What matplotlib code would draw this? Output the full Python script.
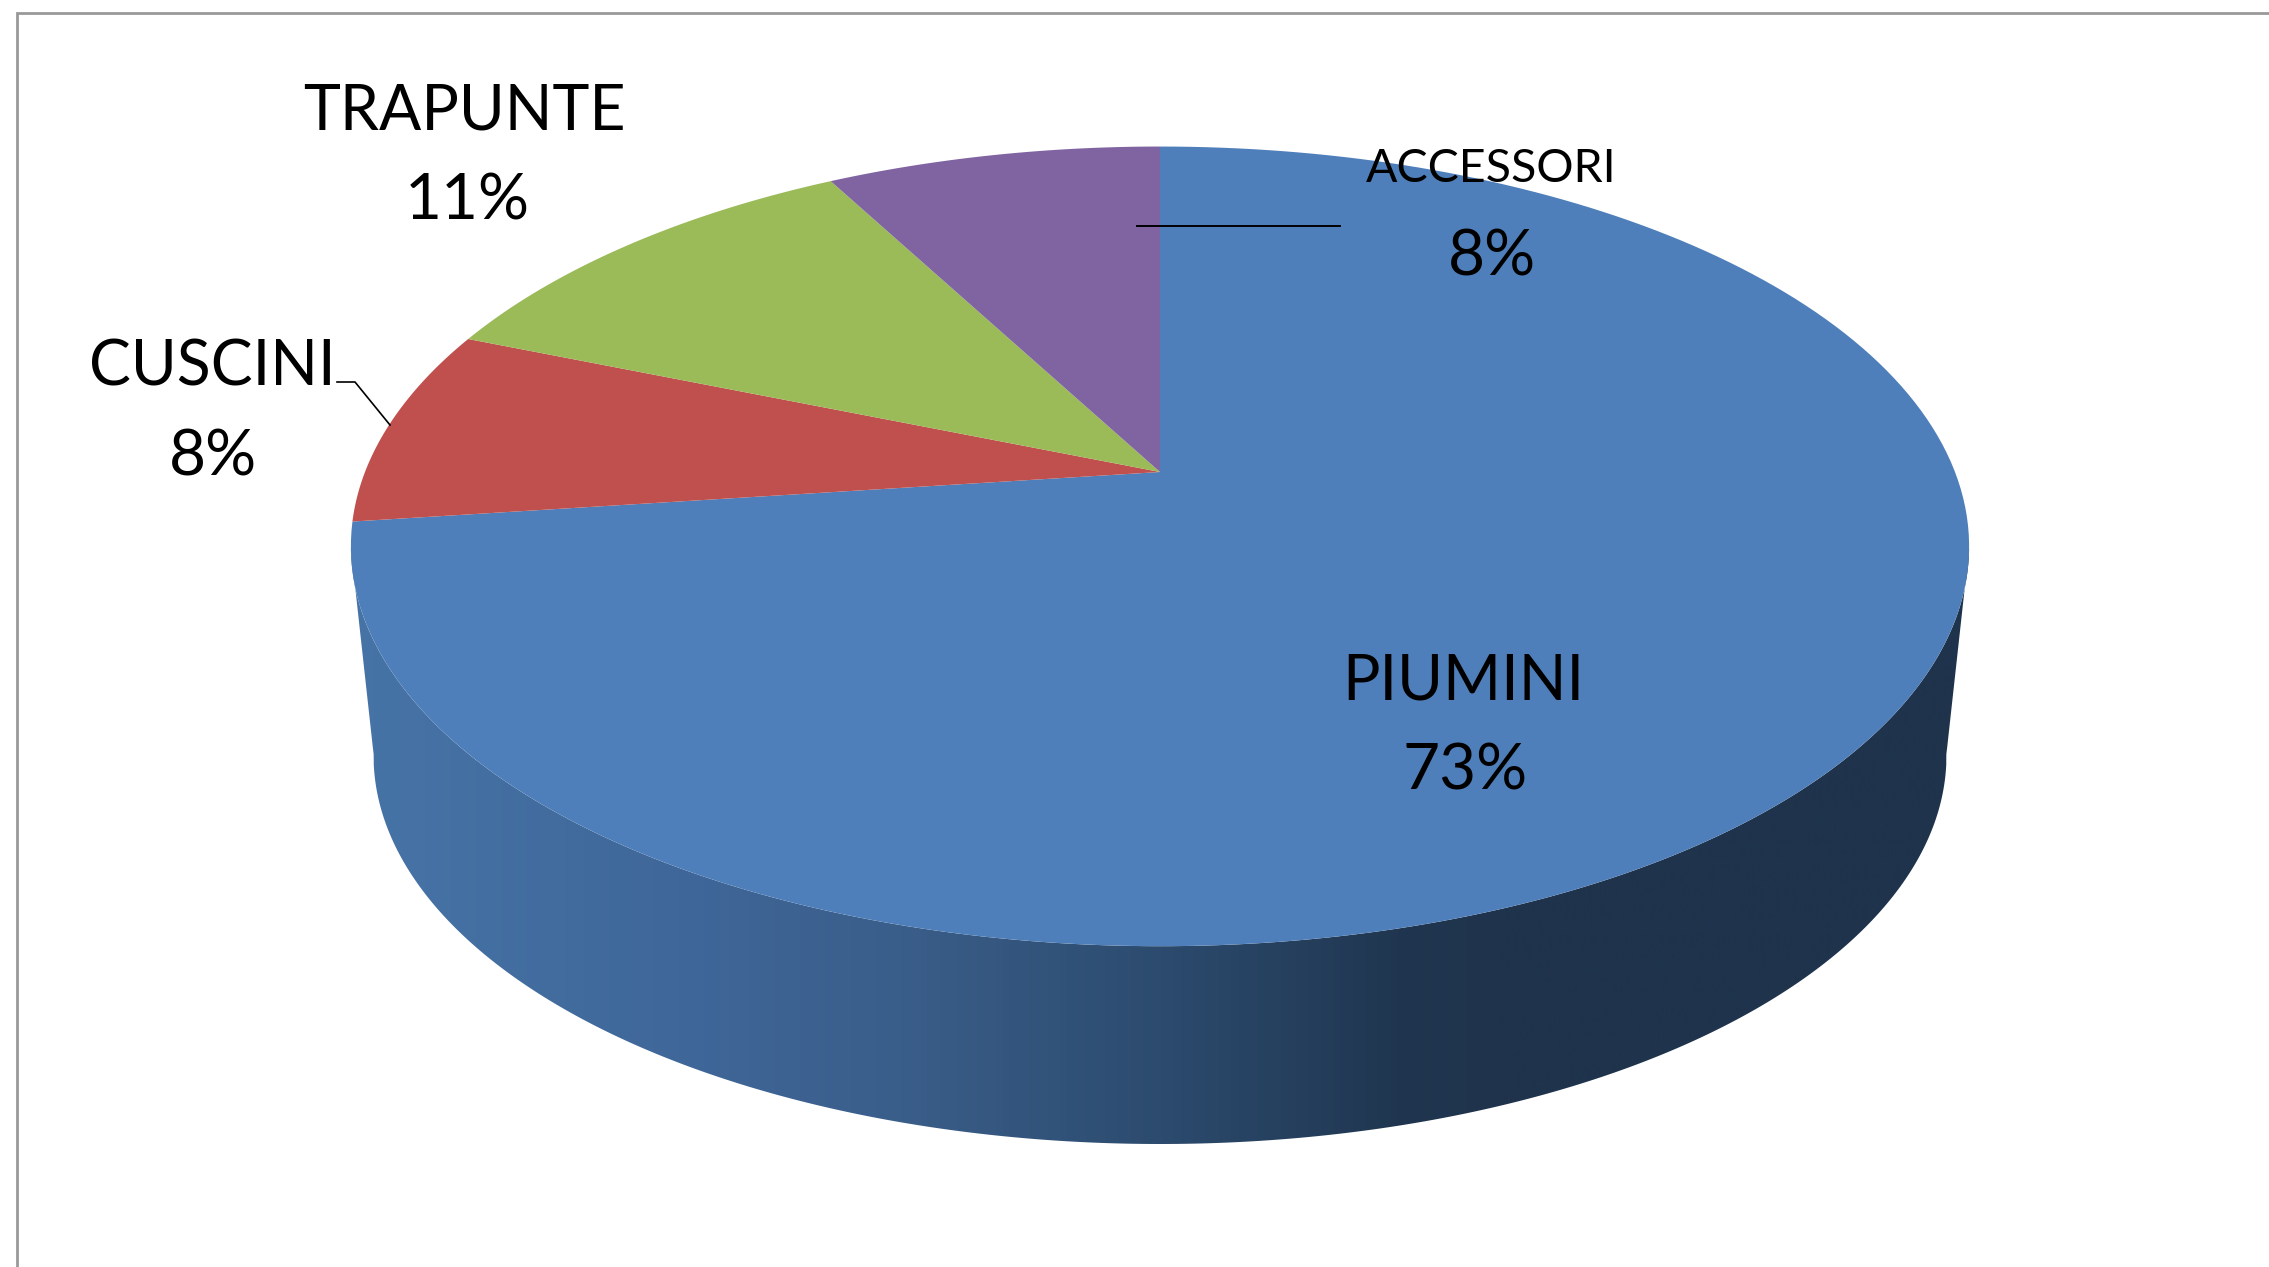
import numpy as np
import matplotlib
matplotlib.use("Agg")
import matplotlib.pyplot as plt
from matplotlib.colors import LinearSegmentedColormap
from matplotlib.patches import Polygon

# Datos del grafico
categorias = ["PIUMINI", "CUSCINI", "TRAPUNTE", "ACCESSORI"]
valores = [73, 8, 11, 8]
etiquetas_pct = ["73%", "8%", "11%", "8%"]
colores = ["#4F7FBA", "#C0504D", "#9BBB59", "#8064A2"]

W, H = 2269, 1267

# Geometria de la tarta en perspectiva (pixeles)
ax_apice, ay_apice = 1160, 472
a, b, k = 795, 386, 0.186
dx_base = 0.972
fondo_y = 1144

# Posicion de textos: x, linea de base, tamano
pos_nombre = [(1463, 700, 45), (212, 385, 45), (464, 129, 45), (1491, 182, 33.5)]
pos_pct = [(1465, 790, 46), (213, 476, 46), (467, 220, 46), (1492, 275, 46)]


def proyectar(t):
    # t en radianes, sentido horario desde las 12
    u, v = np.sin(t), np.cos(t)
    den = 1 + k * v
    return ax_apice + a * u / den, ay_apice - b * v / den


fig = plt.figure(figsize=(W / 100, H / 100), dpi=100)
ax = fig.add_axes([0, 0, 1, 1])
ax.set_xlim(0, W)
ax.set_ylim(H, 0)
ax.axis("off")
plt.rcParams["font.family"] = ["Lato", "DejaVu Sans"]

# Contorno de la cara superior y de la base
t = np.linspace(0, 2 * np.pi, 721)
x_sup, y_sup = proyectar(t)
cx = (x_sup.min() + x_sup.max()) / 2
cy = (y_sup.min() + y_sup.max()) / 2
x_inf = cx + (x_sup - cx) * dx_base
y_inf = fondo_y - (y_sup.max() - y_sup) * dx_base

# Lateral: banda entre los extremos de las dos elipses
mitad_sup = y_sup >= cy
mitad_inf = y_inf >= cy + (fondo_y - y_sup.max())
orden_sup = np.argsort(x_sup[mitad_sup])
orden_inf = np.argsort(x_inf[mitad_inf])[::-1]
lateral = np.column_stack([
    np.r_[x_sup[mitad_sup][orden_sup], x_inf[mitad_inf][orden_inf]],
    np.r_[y_sup[mitad_sup][orden_sup], y_inf[mitad_inf][orden_inf]],
])

x0, x1 = x_inf.min() - 25, x_sup.max() + 5
stops = [(373, "#4673A6"), (700, "#3F6698"), (900, "#3A5E8A"), (1160, "#2C4B6E"),
         (1400, "#203650"), (1500, "#1F334C"), (1950, "#1F334C")]
cmap = LinearSegmentedColormap.from_list(
    "lateral", [((max(p, x0) - x0) / (x1 - x0), c) for p, c in [(x0, "#4673A6")] + stops] + [(1.0, "#1F334C")])
img = ax.imshow(np.linspace(0, 1, 1024)[None, :], cmap=cmap, aspect="auto",
                extent=[x0, x1, H, 0], zorder=1)
parche = Polygon(lateral, closed=True, transform=ax.transData, fc="none", ec="none")
ax.add_patch(parche)
img.set_clip_path(parche)
ax.set_xlim(0, W)
ax.set_ylim(H, 0)

# Sectores desde las 12 en sentido horario
acum = 0
for valor, color in zip(valores, colores):
    t = np.linspace(acum, acum + valor, 200) / sum(valores) * 2 * np.pi
    xs, ys = proyectar(t)
    ax.fill(np.r_[ax_apice, xs], np.r_[ay_apice, ys], color=color, lw=0, zorder=2)
    acum += valor

# Etiquetas
for nombre, pct, pn, pp in zip(categorias, etiquetas_pct, pos_nombre, pos_pct):
    ax.text(pn[0], pn[1], nombre, fontsize=pn[2], ha="center", va="baseline", color="black", zorder=4)
    ax.text(pp[0], pp[1], pct, fontsize=pp[2], ha="center", va="baseline", color="black", zorder=4)

# Lineas guia
ax.plot([337, 355, 390], [382, 382, 425], color="black", lw=1.2, zorder=3)
ax.plot([1137, 1340], [226, 226], color="black", lw=1.4, zorder=3)

# Marco gris
ax.plot([16.5, 16.5, W], [H, 13, 13], color="#999999", lw=2.0, zorder=5, solid_joinstyle="miter")

fig.savefig("out.png", dpi=100, facecolor="white")
